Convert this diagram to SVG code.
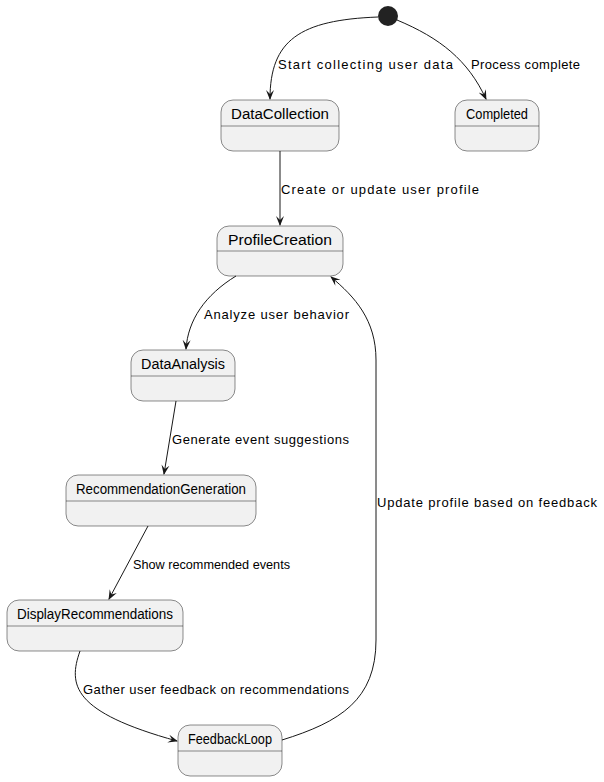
<svg xmlns="http://www.w3.org/2000/svg" width="604" height="782" viewBox="0 0 604 782">
<style>
.node rect.box{fill:#F1F1F1;stroke:#181818;stroke-width:0.5}
.node line{stroke:#181818;stroke-width:0.5}
.title{font-family:"Liberation Sans",Arial,sans-serif;font-size:14px;fill:#000;text-anchor:middle}
.lbl{font-family:"Liberation Sans",Arial,sans-serif;font-size:13px;fill:#000}
.edge{fill:none;stroke:#181818;stroke-width:1;marker-end:url(#arr)}
</style>
<defs>
<marker id="arr" viewBox="0 0 10 10" refX="9" refY="5" markerWidth="10" markerHeight="10" markerUnits="userSpaceOnUse" orient="auto">
<path d="M0,1 L10,5 L0,9 L4,5 z" fill="#181818"/>
</marker>
</defs>
<rect width="604" height="782" fill="#fff"/>
<g id="start"><circle cx="388" cy="16" r="10" fill="#222"/></g>
<g id="DataCollection" class="node"><rect class="box" x="221" y="100" width="118" height="51" rx="12"/><line x1="221" y1="126" x2="339" y2="126"/><text class="title" x="280" y="119" textLength="98" lengthAdjust="spacingAndGlyphs">DataCollection</text></g>
<g id="Completed" class="node"><rect class="box" x="455" y="100" width="84" height="51" rx="12"/><line x1="455" y1="126" x2="539" y2="126"/><text class="title" x="497" y="119" textLength="62" lengthAdjust="spacingAndGlyphs">Completed</text></g>
<g id="ProfileCreation" class="node"><rect class="box" x="217" y="226" width="126" height="50" rx="12"/><line x1="217" y1="251" x2="343" y2="251"/><text class="title" x="280" y="245" textLength="104" lengthAdjust="spacingAndGlyphs">ProfileCreation</text></g>
<g id="DataAnalysis" class="node"><rect class="box" x="131" y="350" width="104" height="51" rx="12"/><line x1="131" y1="376" x2="235" y2="376"/><text class="title" x="183" y="369" textLength="84" lengthAdjust="spacingAndGlyphs">DataAnalysis</text></g>
<g id="RecommendationGeneration" class="node"><rect class="box" x="66" y="475" width="190" height="51" rx="12"/><line x1="66" y1="501" x2="256" y2="501"/><text class="title" x="161" y="494" textLength="170" lengthAdjust="spacingAndGlyphs">RecommendationGeneration</text></g>
<g id="DisplayRecommendations" class="node"><rect class="box" x="7" y="600" width="176" height="51" rx="12"/><line x1="7" y1="626" x2="183" y2="626"/><text class="title" x="95" y="619" textLength="156" lengthAdjust="spacingAndGlyphs">DisplayRecommendations</text></g>
<g id="FeedbackLoop" class="node"><rect class="box" x="178" y="725" width="104" height="51" rx="12"/><line x1="178" y1="751" x2="282" y2="751"/><text class="title" x="230" y="744" textLength="84" lengthAdjust="spacingAndGlyphs">FeedbackLoop</text></g>
<g id="connectors">
<path class="edge" d="M378,17 C300,20 270,40 270,99"/>
<path class="edge" d="M397,20 C440,38 468,60 486,99"/>
<path class="edge" d="M280,151 L280,225"/>
<path class="edge" d="M236,276 C205,295 188,320 186,349"/>
<path class="edge" d="M176,401 L164,474"/>
<path class="edge" d="M148,526 L109,599"/>
<path class="edge" d="M80,651 C68,685 72,712 177,741"/>
<path class="edge" d="M282,740 C340,722 376,700 376,640 L376,360 C376,320 355,297 331,277"/>
<text class="lbl" x="278" y="69" textLength="175" lengthAdjust="spacing">Start collecting user data</text>
<text class="lbl" x="471" y="69" textLength="109" lengthAdjust="spacing">Process complete</text>
<text class="lbl" x="281" y="194" textLength="198" lengthAdjust="spacing">Create or update user profile</text>
<text class="lbl" x="204" y="319" textLength="145" lengthAdjust="spacing">Analyze user behavior</text>
<text class="lbl" x="172" y="444" textLength="177" lengthAdjust="spacing">Generate event suggestions</text>
<text class="lbl" x="133" y="569" textLength="157" lengthAdjust="spacingAndGlyphs">Show recommended events</text>
<text class="lbl" x="83" y="694" textLength="266" lengthAdjust="spacing">Gather user feedback on recommendations</text>
<text class="lbl" x="377" y="507" textLength="220" lengthAdjust="spacing">Update profile based on feedback</text>
</g>
</svg>
